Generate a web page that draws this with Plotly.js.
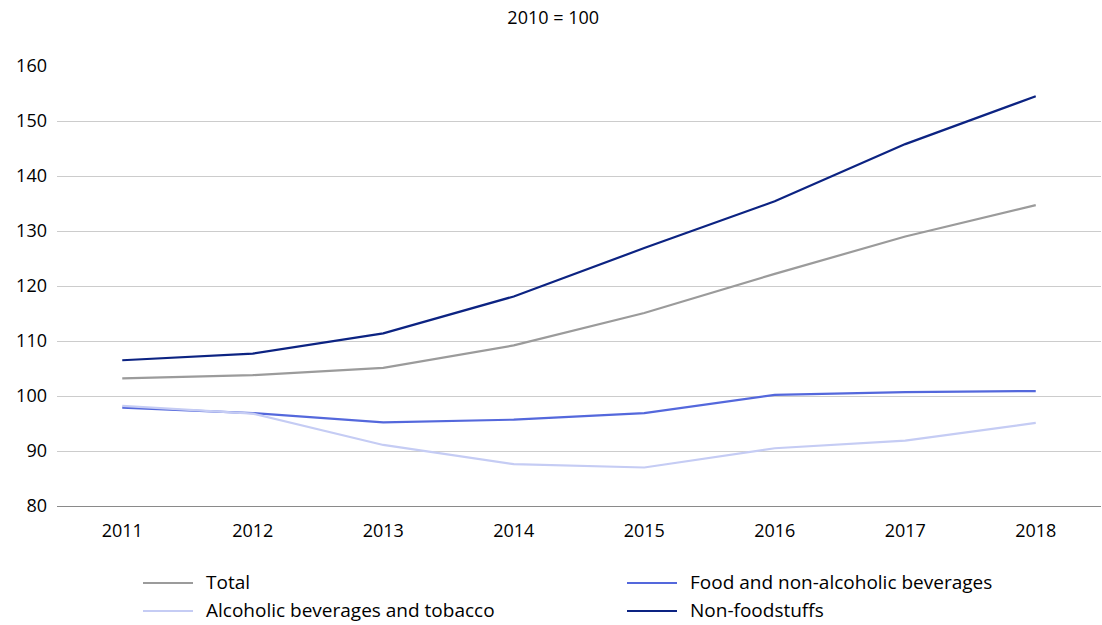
<!DOCTYPE html>
<html>
<head>
<meta charset="utf-8">
<script src="https://cdn.plot.ly/plotly-3.0.1.min.js"></script>
<style>
  html, body { margin: 0; padding: 0; background: #fff; }
  #chart { width: 1102px; height: 625px; }
</style>
</head>
<body>
<div id="chart"></div>
<script>
// Price index by product group, 2010 = 100
const years = ['2011', '2012', '2013', '2014', '2015', '2016', '2017', '2018'];

const total       = [103.2, 103.8, 105.1, 109.2, 115.1, 122.2, 129.0, 134.7];
const food        = [97.9, 96.9, 95.2, 95.7, 96.9, 100.2, 100.7, 100.9];
const alcohol     = [98.2, 96.8, 91.1, 87.6, 87.0, 90.5, 91.9, 95.1];
const nonFood     = [106.5, 107.7, 111.4, 118.1, 126.9, 135.4, 145.8, 154.5];

const yTicks = [80, 90, 100, 110, 120, 130, 140, 150, 160];

const FONT = 'Open Sans, sans-serif';
const W = 1102, H = 625;
const M = { l: 57, r: 1, t: 66, b: 119 };

const seriesDefs = [
  { name: 'Total', values: total, color: '#9b9b9b', col: 0, row: 0 },
  { name: 'Food and non-alcoholic beverages', values: food, color: '#5468dc', col: 1, row: 0 },
  { name: 'Alcoholic beverages and tobacco', values: alcohol, color: '#c5ccf4', col: 0, row: 1 },
  { name: 'Non-foodstuffs', values: nonFood, color: '#0c2382', col: 1, row: 1 }
];

const data = seriesDefs.map(s => ({
  type: 'scatter',
  mode: 'lines',
  name: s.name,
  x: years,
  y: s.values,
  line: { color: s.color, width: 2.2 },
  showlegend: false,
  hoverinfo: 'x+y+name'
}));

// Two-column key below the plot, placed in pixel terms and converted to paper units
const plotW = W - M.l - M.r, plotH = H - M.t - M.b;
const px = x => (x - M.l) / plotW;
const py = y => (H - M.b - y) / plotH;
const keyCols = [143, 627];
const keyRows = [583, 611];

const shapes = seriesDefs.map(s => ({
  type: 'line', xref: 'paper', yref: 'paper',
  x0: px(keyCols[s.col]), x1: px(keyCols[s.col] + 50),
  y0: py(keyRows[s.row]), y1: py(keyRows[s.row]),
  line: { color: s.color, width: 2.2 }
}));

const annotations = seriesDefs.map(s => ({
  xref: 'paper', yref: 'paper',
  x: px(keyCols[s.col] + 61), y: py(keyRows[s.row] - 1),
  xanchor: 'left', yanchor: 'middle',
  text: s.name, showarrow: false,
  font: { family: FONT, size: 19, color: '#000000' }
}));

const layout = {
  width: W,
  height: H,
  paper_bgcolor: '#ffffff',
  plot_bgcolor: '#ffffff',
  font: { family: FONT, size: 18, color: '#000000' },
  margin: M,
  showlegend: false,
  title: {
    text: '2010 = 100',
    font: { family: FONT, size: 18, color: '#000000' },
    xref: 'container', x: 0.502, xanchor: 'center',
    yref: 'container', y: 1 - 18 / H, yanchor: 'middle'
  },
  xaxis: {
    type: 'category',
    range: [-0.5, 7.5],
    showgrid: false,
    showline: true,
    linecolor: '#8a8a8a',
    linewidth: 1.2,
    ticks: '',
    tickfont: { family: FONT, size: 18 },
    ticklabelstandoff: 8,
    zeroline: false,
    fixedrange: true
  },
  yaxis: {
    range: [80, 160],
    tickvals: yTicks,
    ticktext: yTicks.map(String),
    showgrid: true,
    gridcolor: '#cccccc',
    gridwidth: 1,
    showline: false,
    zeroline: false,
    ticks: '',
    tickfont: { family: FONT, size: 18 },
    ticklabelstandoff: 9,
    fixedrange: true
  },
  shapes: shapes,
  annotations: annotations
};

Plotly.newPlot('chart', data, layout, { displayModeBar: false, staticPlot: true });
</script>
</body>
</html>
